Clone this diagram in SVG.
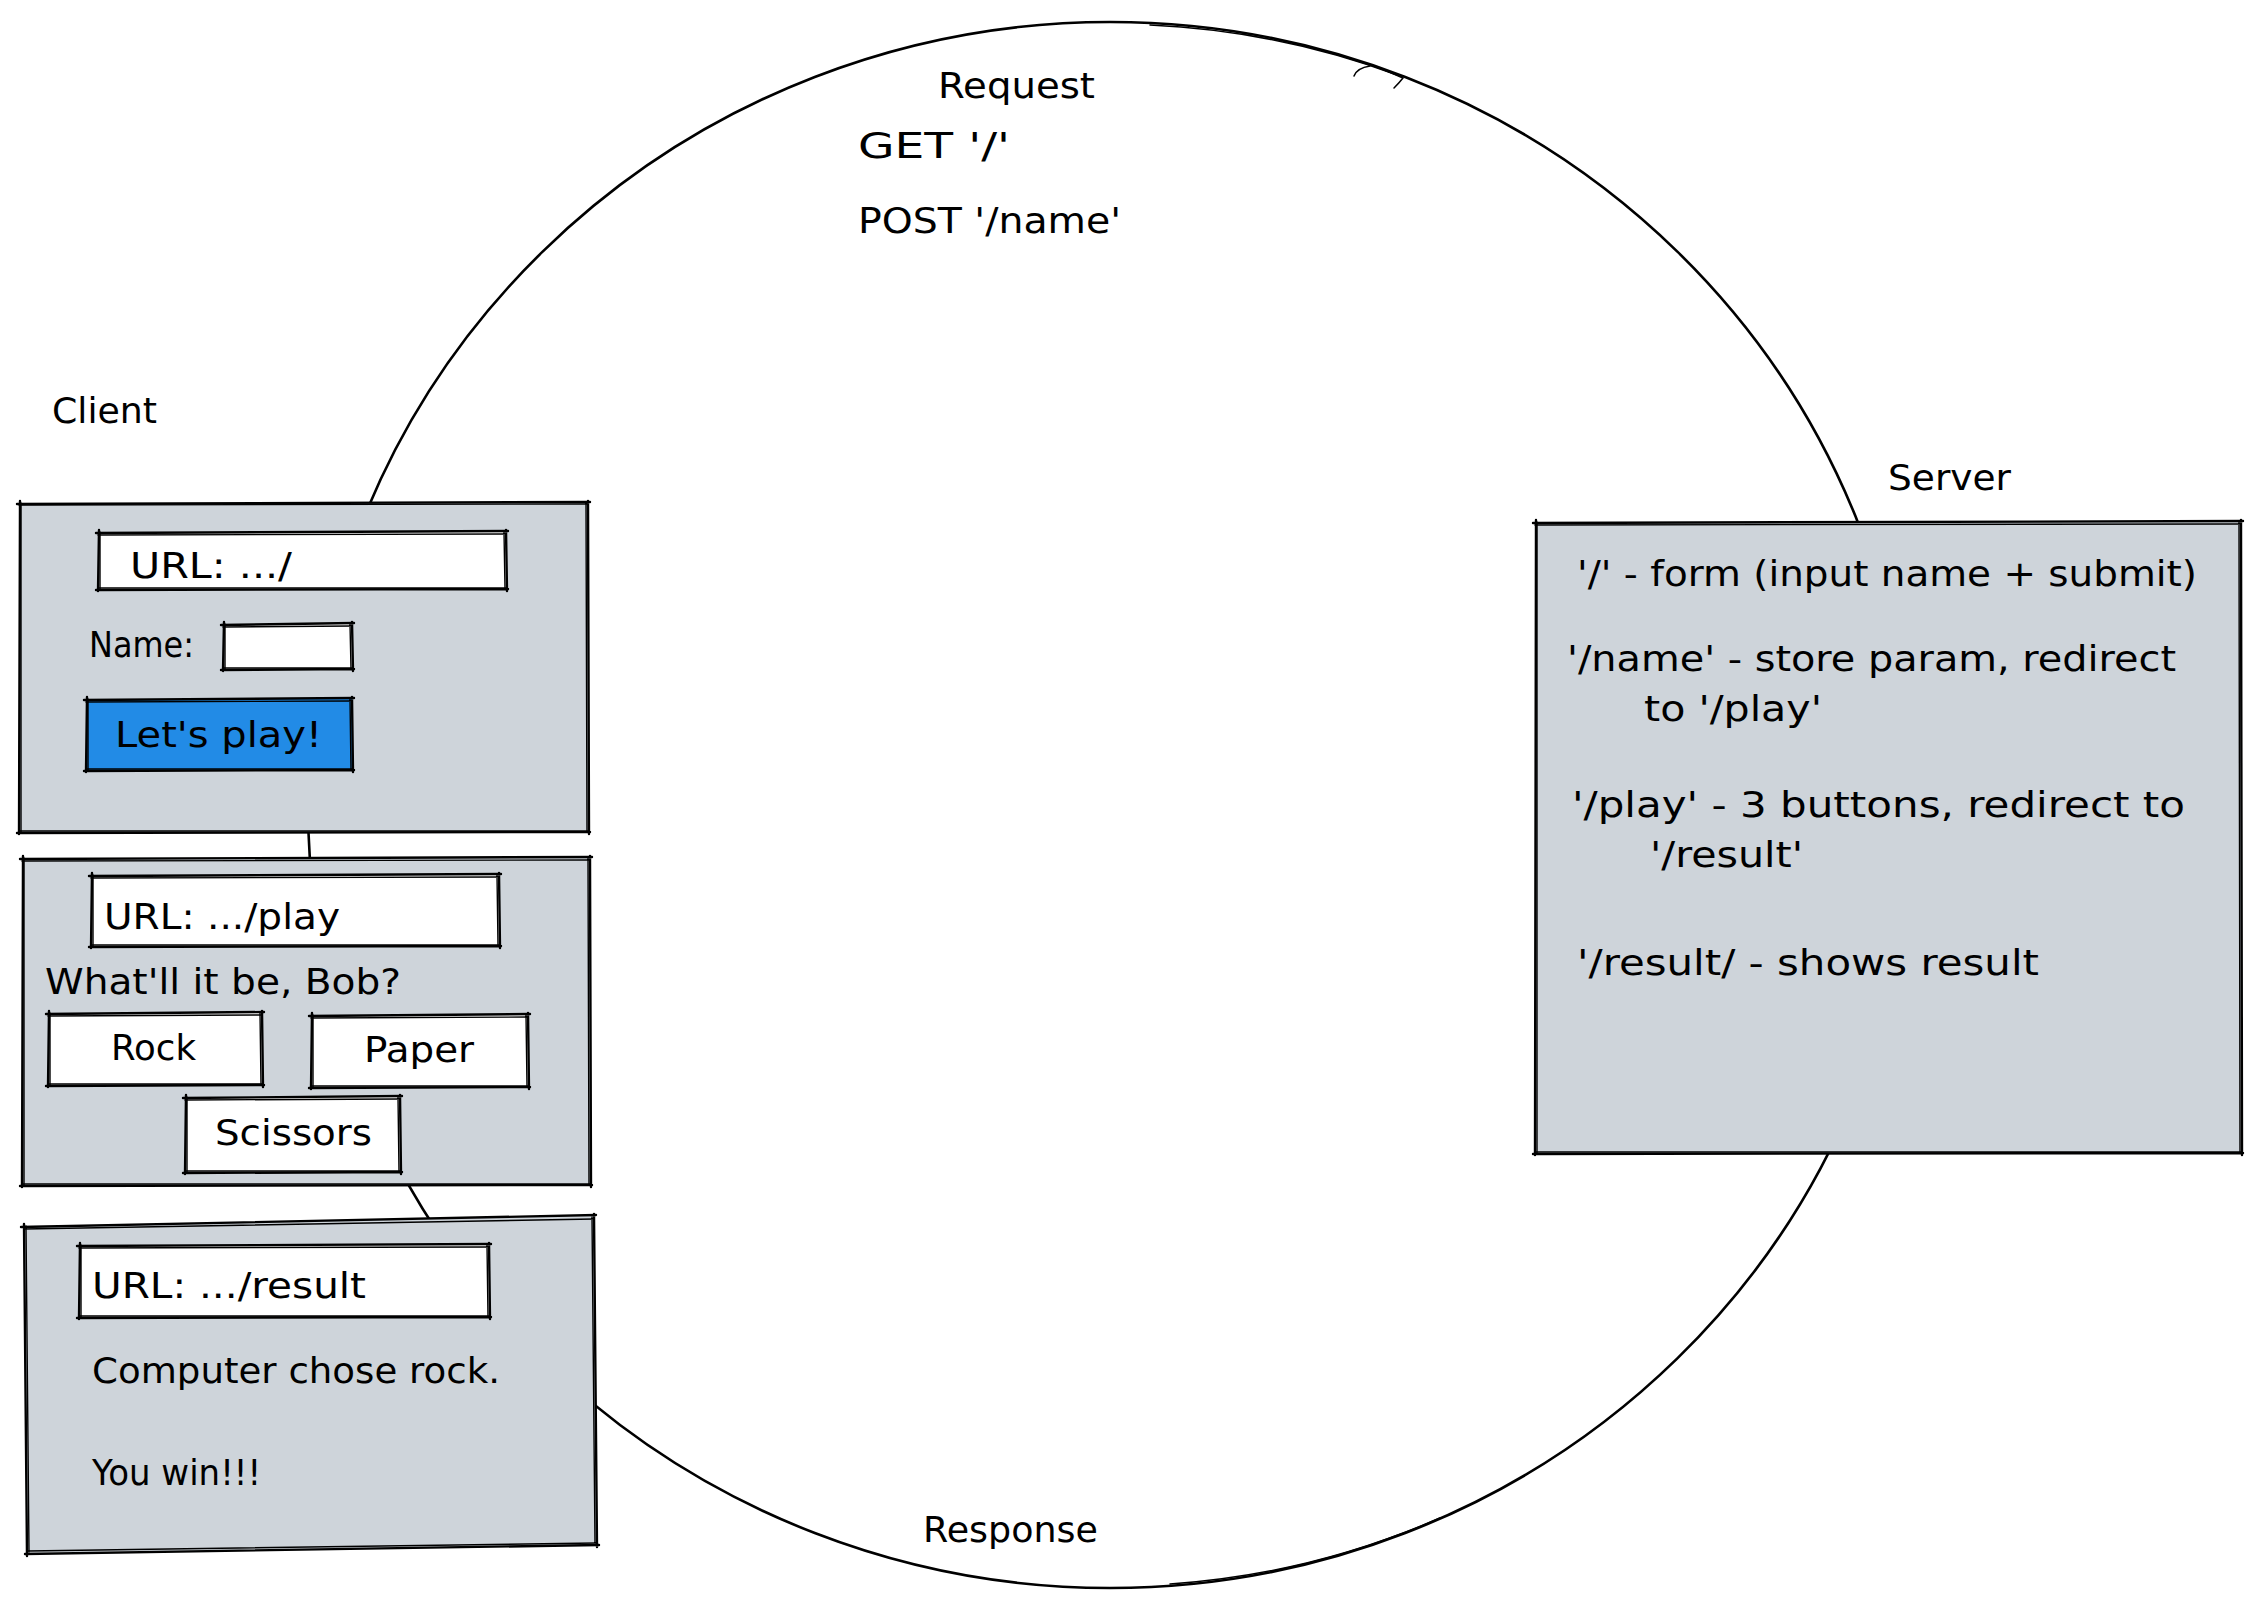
<svg xmlns="http://www.w3.org/2000/svg" width="2260" height="1608" viewBox="0 0 2260 1608">
<style>
.bg{fill:#ffffff}
.panel{fill:#ced4da;stroke:none}
.field{fill:#ffffff;stroke:none}
.btn{fill:#228be6;stroke:none}
.sk{fill:none;stroke:#000;stroke-width:2.4;stroke-linecap:round;stroke-linejoin:round}
.sk2{fill:none;stroke:#000;stroke-width:1.4;stroke-linecap:round;stroke-linejoin:round}
.line{fill:none;stroke:#000;stroke-width:2.6;stroke-linecap:round}
.line2{fill:none;stroke:#000;stroke-width:1.5;stroke-linecap:round}
.t{font-family:"DejaVu Sans","Liberation Sans",sans-serif;font-size:35px;fill:#000}
.lbl{font-size:36px}
</style>
<rect class="bg" x="0" y="0" width="2260" height="1608"/>

<g id="connectors">
  <ellipse class="line" cx="1110" cy="805" rx="802" ry="783"/>
  <path class="line2" d="M1150,25 A802,783 0 0 1 1400,76"/>
  <path class="line2" d="M1170,1584 A802,783 0 0 0 1440,1518"/>
  <path class="line2" d="M1354,76 Q1357,68 1370,66"/>
  <path class="line2" d="M1380,68 L1403,78 Q1399,83 1394,88"/>
</g>

<g id="label-request">
  <text class="t lbl" x="938" y="98" textLength="157" lengthAdjust="spacingAndGlyphs">Request</text>
  <text class="t" x="858" y="158" textLength="152" lengthAdjust="spacingAndGlyphs">GET '/'</text>
  <text class="t" x="858" y="233" textLength="263" lengthAdjust="spacingAndGlyphs">POST '/name'</text>
</g>

<g id="label-response">
  <text class="t lbl" x="923" y="1542" textLength="175" lengthAdjust="spacingAndGlyphs">Response</text>
</g>

<g id="label-client">
  <text class="t lbl" x="52" y="423" textLength="105" lengthAdjust="spacingAndGlyphs">Client</text>
</g>

<g id="client-home">
  <rect class="panel" x="19" y="503" width="569" height="329"/>
  <path class="sk" d="M17,504 L590,502 M588,501 L589,834 M590,832 L17,833 M19,834 L20,501"/>
  <path class="sk2" d="M19,505 L588,504 M586,503 L587,832 M588,831 L20,831 M21,832 L21,503"/>
  <rect class="field" x="98" y="532" width="408" height="57"/>
  <path class="sk" d="M96,533 L508,531 M506,530 L507,591 M508,589 L96,590 M98,591 L99,530"/>
  <path class="sk2" d="M98,535 L506,534 M504,532 L505,589 M506,588 L99,588 M100,589 L100,532"/>
  <text class="t" x="130" y="578" textLength="162" lengthAdjust="spacingAndGlyphs">URL: .../</text>
  <text class="t" x="89" y="657" textLength="105" lengthAdjust="spacingAndGlyphs">Name:</text>
  <rect class="field" x="223" y="624" width="129" height="45"/>
  <path class="sk" d="M221,625 L354,623 M352,622 L353,671 M354,669 L221,670 M223,671 L224,622"/>
  <path class="sk2" d="M223,627 L352,626 M350,624 L351,669 M352,668 L224,668 M225,669 L225,624"/>
  <rect class="btn" x="86" y="699" width="266" height="71"/>
  <path class="sk" d="M84,700 L354,698 M352,697 L353,772 M354,770 L84,771 M86,772 L87,697"/>
  <path class="sk2" d="M86,702 L352,701 M350,699 L351,770 M352,769 L87,769 M88,770 L88,699"/>
  <text class="t" x="115" y="747" font-size="38" textLength="207" lengthAdjust="spacingAndGlyphs">Let's play!</text>
</g>

<g id="client-play">
  <rect class="panel" x="22" y="858" width="568" height="327"/>
  <path class="sk" d="M20,859 L592,857 M590,856 L591,1187 M592,1185 L20,1186 M22,1187 L23,856"/>
  <path class="sk2" d="M22,861 L590,860 M588,858 L589,1185 M590,1184 L23,1184 M24,1185 L24,858"/>
  <rect class="field" x="91" y="875" width="408" height="71"/>
  <path class="sk" d="M89,876 L501,874 M499,873 L500,948 M501,946 L89,947 M91,948 L92,873"/>
  <path class="sk2" d="M91,878 L499,877 M497,875 L498,946 M499,945 L92,945 M93,946 L93,875"/>
  <text class="t" x="104" y="929" textLength="236" lengthAdjust="spacingAndGlyphs">URL: .../play</text>
  <text class="t" x="45" y="994" textLength="356" lengthAdjust="spacingAndGlyphs">What'll it be, Bob?</text>
  <rect class="field" x="48" y="1013" width="214" height="72"/>
  <path class="sk" d="M46,1014 L264,1012 M262,1011 L263,1087 M264,1085 L46,1086 M48,1087 L49,1011"/>
  <path class="sk2" d="M48,1016 L262,1015 M260,1013 L261,1085 M262,1084 L49,1084 M50,1085 L50,1013"/>
  <text class="t" x="111" y="1060" textLength="85" lengthAdjust="spacingAndGlyphs">Rock</text>
  <rect class="field" x="311" y="1015" width="217" height="72"/>
  <path class="sk" d="M309,1016 L530,1014 M528,1013 L529,1089 M530,1087 L309,1088 M311,1089 L312,1013"/>
  <path class="sk2" d="M311,1018 L528,1017 M526,1015 L527,1087 M528,1086 L312,1086 M313,1087 L313,1015"/>
  <text class="t" x="364" y="1062" textLength="110" lengthAdjust="spacingAndGlyphs">Paper</text>
  <rect class="field" x="185" y="1097" width="215" height="75"/>
  <path class="sk" d="M183,1098 L402,1096 M400,1095 L401,1174 M402,1172 L183,1173 M185,1174 L186,1095"/>
  <path class="sk2" d="M185,1100 L400,1099 M398,1097 L399,1172 M400,1171 L186,1171 M187,1172 L187,1097"/>
  <text class="t" x="215" y="1145" textLength="157" lengthAdjust="spacingAndGlyphs">Scissors</text>
</g>

<g id="client-result">
  <polygon class="panel" points="24,1226 594,1216 597,1545 27,1553"/>
  <path class="sk" d="M21,1227 L596,1215 M594,1214 L597,1547 M599,1545 L25,1554 M27,1556 L24,1224"/>
  <path class="sk2" d="M24,1229 L594,1219 M592,1217 L595,1545 M596,1543 L28,1551 M29,1552 L26,1226"/>
  <rect class="field" x="79" y="1245" width="410" height="72"/>
  <path class="sk" d="M77,1246 L491,1244 M489,1243 L490,1319 M491,1317 L77,1318 M79,1319 L80,1243"/>
  <path class="sk2" d="M79,1248 L489,1247 M487,1245 L488,1317 M489,1316 L80,1316 M81,1317 L81,1245"/>
  <text class="t" x="92" y="1298" textLength="274" lengthAdjust="spacingAndGlyphs">URL: .../result</text>
  <text class="t" x="92" y="1383" textLength="408" lengthAdjust="spacingAndGlyphs">Computer chose rock.</text>
  <text class="t" x="92" y="1485" textLength="169" lengthAdjust="spacingAndGlyphs">You win!!!</text>
</g>

<g id="label-server">
  <text class="t lbl" x="1888" y="490" textLength="123" lengthAdjust="spacingAndGlyphs">Server</text>
</g>

<g id="server">
  <rect class="panel" x="1535" y="522" width="706" height="631"/>
  <path class="sk" d="M1533,523 L2243,521 M2241,520 L2242,1155 M2243,1153 L1533,1154 M1535,1155 L1536,520"/>
  <path class="sk2" d="M1535,525 L2241,524 M2239,522 L2240,1153 M2241,1152 L1536,1152 M1537,1153 L1537,522"/>
  <text class="t" x="1577" y="586" textLength="620" lengthAdjust="spacingAndGlyphs">'/' - form (input name + submit)</text>
  <text class="t" x="1567" y="671" textLength="609" lengthAdjust="spacingAndGlyphs">'/name' - store param, redirect</text>
  <text class="t" x="1644" y="721" textLength="178" lengthAdjust="spacingAndGlyphs">to '/play'</text>
  <text class="t" x="1572" y="817" textLength="613" lengthAdjust="spacingAndGlyphs">'/play' - 3 buttons, redirect to</text>
  <text class="t" x="1650" y="867" textLength="153" lengthAdjust="spacingAndGlyphs">'/result'</text>
  <text class="t" x="1577" y="975" textLength="462" lengthAdjust="spacingAndGlyphs">'/result/ - shows result</text>
</g>
</svg>
